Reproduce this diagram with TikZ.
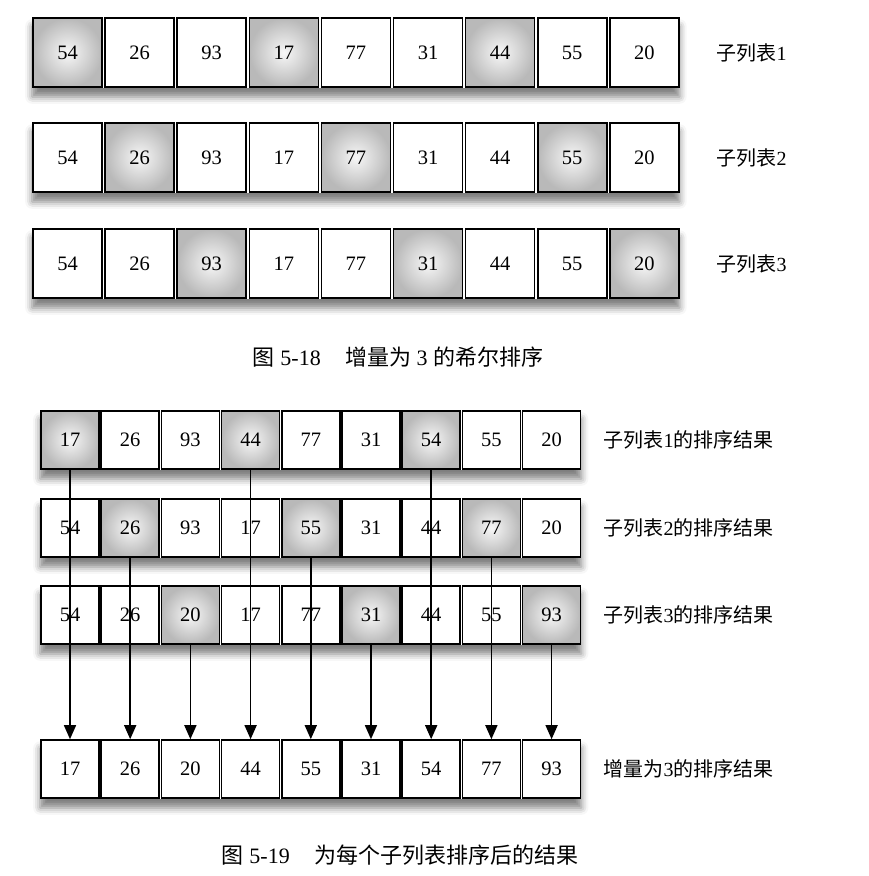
\documentclass[tikz,border=0pt]{standalone}
\usepackage{fontspec}
\setmainfont{Liberation Serif}
\newfontfamily\cjk{Noto Sans CJK SC}
\usetikzlibrary{arrows.meta,shadows.blur,backgrounds}

\begin{document}
\begin{tikzpicture}[x=1pt, y=-1pt,
  box/.style={draw, line width=1.6pt, fill=white, inner sep=0pt,
    font=\fontsize{20.5}{24}\selectfont},
  big/.style={box, minimum size=69pt},
  small/.style={box, minimum size=58pt},
  hot/.style={inner color=gray!6, outer color=gray!55},
  rowshadow/.style={fill=white, blur shadow={shadow xshift=0pt,
    shadow yshift=-9pt, shadow blur radius=7pt, shadow opacity=50}},
  lbl/.style={anchor=west, font=\fontsize{20}{24}\selectfont},
  figcap/.style={font=\fontsize{22}{26}\selectfont},
  link/.style={line width=1.5pt, -{Triangle[length=14pt,width=12pt]}}]
\useasboundingbox (0,0) rectangle (868,876);

% Fig 5-18: the three sublists
\foreach \r/\y in {1/52.5,2/157.5,3/263.5}{
  \foreach \v [count=\c] in {54,26,93,17,77,31,44,55,20}{
    \pgfmathtruncatemacro\k{mod(\c-1,3)+1}
    \ifnum\k=\r \def\sty{hot}\else\def\sty{}\fi
    \node[big,\sty] (t-\r-\c) at ({67.5+72.1*(\c-1)},\y) {\v};
  }
  \node[lbl] (tl-\r) at (713,\y) {{\cjk 子列表}\r};
  \begin{scope}[on background layer]
    \path[rowshadow] (t-\r-1.north west) rectangle (t-\r-9.south east);
  \end{scope}
}
\node[figcap] (cap1) at (398,357) {{\cjk 图} 5-18\hspace{1.1em}{\cjk 增量为} 3 {\cjk 的希尔排序}};

% Fig 5-19: each sublist sorted
\foreach \r/\y/\vals in {1/440/{17,26,93,44,77,31,54,55,20},
                         2/528/{54,26,93,17,55,31,44,77,20},
                         3/615/{54,26,20,17,77,31,44,55,93},
                         4/769/{17,26,20,44,55,31,54,77,93}}{
  \foreach \v [count=\c] in \vals{
    \pgfmathtruncatemacro\k{mod(\c-1,3)+1}
    \ifnum\k=\r \def\sty{hot}\else\def\sty{}\fi
    \node[small,\sty] (b-\r-\c) at ({70+60.2*(\c-1)},\y) {\v};
  }
  \begin{scope}[on background layer]
    \path[rowshadow] (b-\r-1.north west) rectangle (b-\r-9.south east);
  \end{scope}
}
\node[lbl] (bl-1) at (600,440) {{\cjk 子列表}1{\cjk 的排序结果}};
\node[lbl] (bl-2) at (600,528) {{\cjk 子列表}2{\cjk 的排序结果}};
\node[lbl] (bl-3) at (600,615) {{\cjk 子列表}3{\cjk 的排序结果}};
\node[lbl] (bl-4) at (600,769) {{\cjk 增量为}3{\cjk 的排序结果}};

\foreach \c in {1,...,9}{
  \pgfmathtruncatemacro\k{mod(\c-1,3)+1}
  \draw[link] (b-\k-\c.south) -- (b-4-\c.north);
}
\node[figcap] (cap2) at (400,855) {{\cjk 图} 5-19\hspace{1.1em}{\cjk 为每个子列表排序后的结果}};
\end{tikzpicture}
\end{document}
